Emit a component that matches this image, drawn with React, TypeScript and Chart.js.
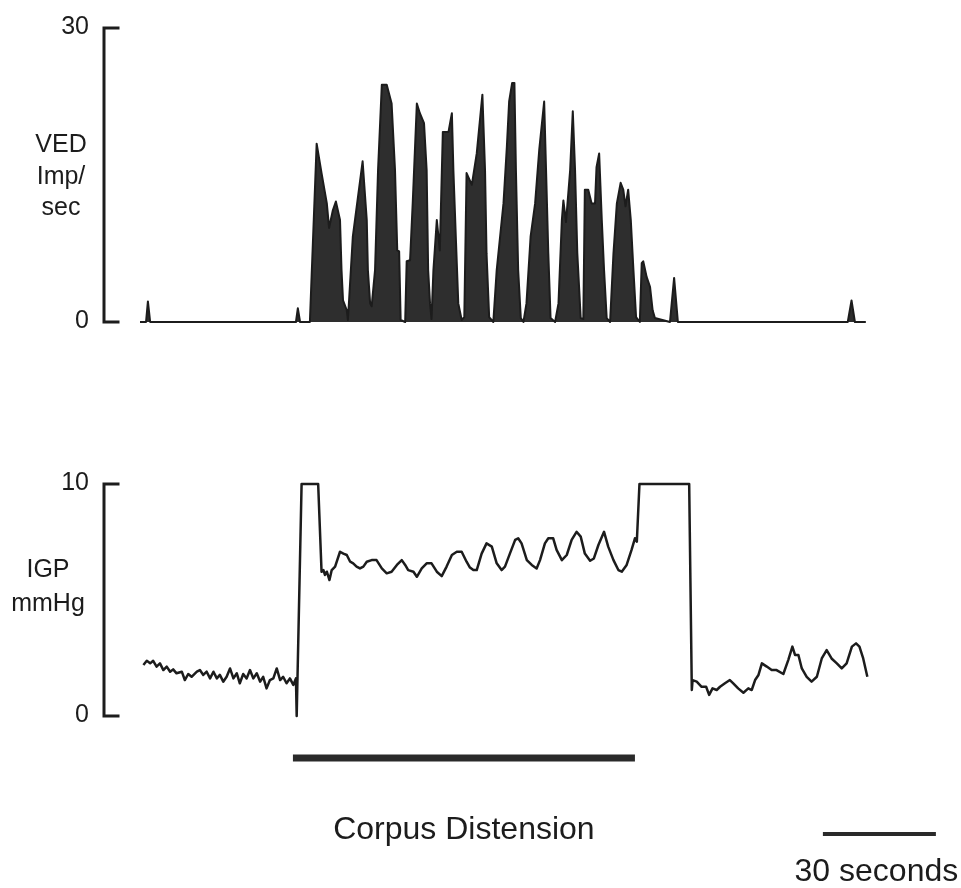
import React, { useEffect, useRef } from "react";
import { Chart, registerables } from "chart.js";

Chart.register(...registerables);

// ---------- DATA (time in seconds from start of recording) ----------
const vedTime = [
  0, 1.6, 2.1, 2.7, 41.4, 41.9, 42.5, 45.1, 46.9, 48.2, 49.6, 50.2, 51.2, 52.0, 53.1, 53.5, 53.9, 54.9, 55.2,
  56.5, 59.1, 60.2, 60.5, 61.1, 61.5, 62.4, 63.2, 64.2, 65.5, 66.8, 67.7, 68.3, 68.8, 69.2, 70.4, 70.8, 71.7,
  72.4, 73.5, 74.3, 75.4, 76.1, 76.5, 77.0, 77.4, 77.9, 78.8, 79.6, 80.4, 81.9, 82.8, 83.2, 83.9, 84.5, 85.4,
  86.1, 86.7, 88.1, 89.4, 90.9, 91.6, 92.0, 92.7, 93.8, 94.7, 96.5, 97.4, 98.0, 98.8, 99.4, 99.8, 100.4, 101.1,
  101.8, 102.6, 103.7, 104.9, 106.0, 107.3, 107.8, 108.4, 109.0, 110.2, 111.1, 112.0, 112.4, 113.1, 114.2,
  114.9, 115.5, 116.1, 117.0, 117.7, 118.1, 119.0, 119.9, 120.8, 121.2, 121.9, 122.6, 123.2, 123.9, 124.8,
  125.7, 126.6, 127.6, 128.3, 128.9, 129.6, 130.3, 131.0, 131.7, 132.7, 133.2, 133.6, 134.5, 135.4, 136.1,
  136.7, 140.7, 141.8, 142.8, 187.9, 188.9, 189.8, 192.7,
];
const vedImpPerSec = [
  0, 0, 2.1, 0, 0, 1.4, 0, 0, 18.2, 15.2, 12.1, 9.6, 11.4, 12.3, 10.4, 5.3, 2.2, 1.2, 0.2,
  8.7, 16.4, 10.4, 5.3, 1.9, 1.6, 5.3, 15.5, 24.2, 24.2, 22.3, 15.5, 7.3, 7.2, 0.2, 0, 6.2, 6.3,
  12.1, 22.3, 21.3, 20.3, 15.5, 5.3, 1.9, 0.3, 5.3, 10.4, 7.3, 19.4, 19.4, 21.3, 15.5, 8.1, 1.9, 0.2,
  0.5, 15.2, 14.0, 17.2, 23.2, 15.5, 7.0, 0.5, 0, 5.3, 12.1, 17.9, 22.5, 24.4, 24.4, 15.5, 5.3, 0.4,
  0, 1.9, 8.7, 12.1, 17.6, 22.5, 15.5, 7.0, 0.4, 0, 1.9, 10.4, 12.4, 10.2, 15.5,
  21.5, 15.5, 7.0, 0.4, 0.3, 13.5, 13.5, 12.1, 12.1, 15.8, 17.2, 10.4, 5.3, 0.4, 0,
  7.0, 12.1, 14.2, 13.5, 11.8, 13.5, 10.4, 5.3, 0.5, 0, 6.0, 6.2, 4.6, 3.6, 1.2,
  0.4, 0, 4.5, 0, 0, 2.2, 0, 0,
];

const igpTime = [
  0.9, 1.8, 2.7, 3.5, 4.4, 5.3, 6.2, 7.1, 8.0, 8.8, 9.7, 11.1, 11.9, 12.8, 13.7, 15.1, 15.9, 16.8, 17.7, 18.6,
  19.5, 20.4, 21.2, 22.1, 23.0, 23.9, 24.8, 25.7, 26.5, 27.4, 28.3, 29.2, 30.1, 31.0, 31.9, 32.7, 33.6, 34.5,
  35.4, 36.3, 37.2, 38.0, 38.9, 39.8, 40.7, 41.4, 41.6, 42.9, 47.3, 48.2, 48.7, 49.1, 49.6, 50.3, 50.9, 51.8,
  53.1, 54.0, 54.9, 55.8, 56.6, 57.5, 58.4, 59.3, 60.2, 61.5, 62.8, 64.2, 65.5, 66.8, 68.2, 69.5, 70.4, 71.2,
  72.6, 73.5, 74.8, 76.1, 77.4, 78.8, 80.1, 81.4, 82.8, 84.1, 85.4, 86.7, 87.6, 88.5, 89.4, 90.7, 92.0, 93.4,
  94.7, 96.0, 96.9, 98.2, 99.6, 100.4, 101.3, 102.7, 104.0, 105.3, 106.2, 107.5, 108.4, 109.7, 110.6, 112.0,
  113.3, 114.6, 115.9, 117.0, 118.1, 119.5, 120.5, 121.7, 123.2, 124.3, 125.7, 127.0, 127.9, 129.2, 130.5,
  131.4, 131.9, 132.6, 145.8, 146.5, 146.7, 147.8, 149.1, 150.3, 151.1, 152.0, 153.1, 154.0, 155.3, 156.6,
  157.5, 158.8, 160.2, 161.5, 162.4, 163.3, 164.2, 165.1, 166.4, 167.7, 169.0, 170.8, 172.1, 173.2, 173.9,
  174.8, 175.7, 177.0, 178.3, 179.7, 181.0, 182.3, 183.6, 185.0, 186.3, 187.6, 189.0, 190.1, 191.0, 192.0,
  193.1,
];
const igpMmHg = [
  2.2, 2.38, 2.27, 2.38, 2.13, 2.27, 1.98, 2.13, 1.91, 2.01, 1.84, 1.91, 1.55, 1.81, 1.69, 1.91, 1.98, 1.77, 1.91, 1.62,
  1.91, 1.62, 1.77, 1.48, 1.69, 2.05, 1.62, 1.84, 1.41, 1.81, 1.62, 1.98, 1.62, 1.84, 1.48, 1.69, 1.19, 1.55,
  1.62, 2.05, 1.55, 1.69, 1.41, 1.62, 1.34, 1.62, 0, 10, 10, 6.22, 6.29, 6.08, 6.22, 5.86, 6.29, 6.44,
  7.08, 7.0, 6.94, 6.65, 6.58, 6.44, 6.36, 6.44, 6.65, 6.72, 6.72, 6.36, 6.15, 6.22, 6.51, 6.72, 6.51, 6.29,
  6.22, 6.0, 6.36, 6.58, 6.58, 6.22, 6.03, 6.44, 6.94, 7.08, 7.08, 6.65, 6.4, 6.29, 6.29, 7.0, 7.44, 7.3,
  6.58, 6.29, 6.44, 7.0, 7.59, 7.66, 7.44, 6.72, 6.51, 6.36, 6.72, 7.44, 7.66, 7.66, 7.16, 6.72,
  6.94, 7.59, 7.94, 7.73, 7.0, 6.69, 6.79, 7.37, 7.94, 7.3, 6.72, 6.29, 6.22, 6.51, 7.16,
  7.66, 7.51, 10, 10, 1.12, 1.55, 1.48, 1.26, 1.26, 0.91, 1.19, 1.12, 1.26, 1.41, 1.55,
  1.41, 1.19, 1.0, 1.19, 1.12, 1.55, 1.77, 2.27, 2.13, 1.98, 1.98, 1.81, 2.41, 2.99, 2.63,
  2.63, 2.05, 1.69, 1.48, 1.69, 2.48, 2.84, 2.48, 2.27, 2.05, 2.27, 2.99, 3.13, 2.99, 2.48,
  1.69,
];

const vedTicks = [0, 30];
const igpTicks = [0, 10];
const vedLabel = ["VED", "Imp/", "sec"];
const igpLabel = ["IGP", "mmHg"];
const distensionStartSec = 40.6;
const distensionEndSec = 131.4;
const distensionLabel = "Corpus Distension";
const scaleBarStartSec = 181.3;
const scaleBarSeconds = 30;
const scaleBarLabel = "30 seconds";

// ---------- LAYOUT (pixels) ----------
const W = 961;
const H = 888;
const X0_PX = 140;
const PX_PER_SEC = 113 / 30;
const TOP_ZERO_PX = 322;
const TOP_MAX_PX = 28;
const BOT_ZERO_PX = 716;
const BOT_MAX_PX = 484;
const AXIS_X = 104;
const TICK_LEN = 14;
const DIST_BAR_Y = 758;
const SCALE_BAR_Y = 834;
const FONT = "'Liberation Sans', Arial, Helvetica, sans-serif";
const INK = "#1c1c1c";

function yRange(zeroPx: number, maxPx: number, maxVal: number) {
  const ppu = (zeroPx - maxPx) / maxVal;
  return { min: -(H - zeroPx) / ppu, max: maxVal + maxPx / ppu, ppu };
}
const topR = yRange(TOP_ZERO_PX, TOP_MAX_PX, vedTicks[1]);
const botR = yRange(BOT_ZERO_PX, BOT_MAX_PX, igpTicks[1]);
const botValAt = (px: number) => (BOT_ZERO_PX - px) / botR.ppu;

const xMin = -X0_PX / PX_PER_SEC;
const xMax = xMin + W / PX_PER_SEC;

const zip = (xs: number[], ys: number[]) =>
  xs.slice(0, Math.min(xs.length, ys.length)).map((x, i) => ({ x, y: ys[i] }));

const annotations = {
  id: "traceAnnotations",
  afterDraw(chart: any) {
    const ctx = chart.ctx as CanvasRenderingContext2D;
    const yT = chart.scales.yTop;
    const yB = chart.scales.yBot;
    const xs = chart.scales.x;
    ctx.save();
    ctx.strokeStyle = INK;
    ctx.fillStyle = INK;
    ctx.lineWidth = 3;
    ctx.lineCap = "square";
    const bracket = (scale: any, ticks: number[]) => {
      const yTopPx = scale.getPixelForValue(ticks[1]);
      const yBotPx = scale.getPixelForValue(ticks[0]);
      ctx.beginPath();
      ctx.moveTo(AXIS_X + TICK_LEN, yTopPx);
      ctx.lineTo(AXIS_X, yTopPx);
      ctx.lineTo(AXIS_X, yBotPx);
      ctx.lineTo(AXIS_X + TICK_LEN, yBotPx);
      ctx.stroke();
      ctx.font = `25px ${FONT}`;
      ctx.textAlign = "right";
      ctx.textBaseline = "middle";
      ticks.forEach((t) => ctx.fillText(String(t), 89, scale.getPixelForValue(t) - 1));
    };
    bracket(yT, vedTicks);
    bracket(yB, igpTicks);

    ctx.font = `25px ${FONT}`;
    ctx.textAlign = "center";
    ctx.textBaseline = "alphabetic";
    const vedBase = [152, 184, 215];
    vedLabel.forEach((s, i) => ctx.fillText(s, 61, vedBase[i]));
    const igpBase = [577, 611];
    igpLabel.forEach((s, i) => ctx.fillText(s, 48, igpBase[i]));

    ctx.font = `32px ${FONT}`;
    ctx.fillText(distensionLabel, (xs.getPixelForValue(distensionStartSec) + xs.getPixelForValue(distensionEndSec)) / 2, 839);
    ctx.fillText(scaleBarLabel, xs.getPixelForValue(scaleBarStartSec + scaleBarSeconds / 2) - 3, 881);
    ctx.restore();
  },
};

export default function App() {
  const ref = useRef<HTMLCanvasElement>(null);
  useEffect(() => {
    if (!ref.current) return;
    const chart = new Chart(ref.current, {
      type: "line",
      data: {
        datasets: [
          {
            label: "VED Imp/sec",
            data: zip(vedTime, vedImpPerSec),
            yAxisID: "yTop",
            borderColor: INK,
            backgroundColor: "#2e2e2e",
            borderWidth: 2,
            borderJoinStyle: "round",
            fill: "origin",
            pointRadius: 0,
            tension: 0,
          },
          {
            label: "IGP mmHg",
            data: zip(igpTime, igpMmHg),
            yAxisID: "yBot",
            borderColor: INK,
            borderWidth: 2.5,
            borderJoinStyle: "round",
            fill: false,
            pointRadius: 0,
            tension: 0,
          },
          {
            label: distensionLabel,
            data: [
              { x: distensionStartSec, y: botValAt(DIST_BAR_Y) },
              { x: distensionEndSec, y: botValAt(DIST_BAR_Y) },
            ],
            yAxisID: "yBot",
            borderColor: "#2a2a2a",
            borderWidth: 7,
            borderCapStyle: "butt",
            fill: false,
            pointRadius: 0,
          },
          {
            label: scaleBarLabel,
            data: [
              { x: scaleBarStartSec, y: botValAt(SCALE_BAR_Y) },
              { x: scaleBarStartSec + scaleBarSeconds, y: botValAt(SCALE_BAR_Y) },
            ],
            yAxisID: "yBot",
            borderColor: "#2a2a2a",
            borderWidth: 4,
            borderCapStyle: "butt",
            fill: false,
            pointRadius: 0,
          },
        ],
      },
      options: {
        responsive: false,
        maintainAspectRatio: false,
        devicePixelRatio: 1,
        animation: false,
        events: [],
        layout: { padding: 0 },
        plugins: { legend: { display: false }, tooltip: { enabled: false }, title: { display: false } },
        scales: {
          x: { type: "linear", min: xMin, max: xMax, display: false },
          yTop: { type: "linear", min: topR.min, max: topR.max, display: false },
          yBot: { type: "linear", min: botR.min, max: botR.max, display: false },
        },
      } as any,
      plugins: [annotations],
    });
    return () => chart.destroy();
  }, []);
  return (
    <div style={{ position: "absolute", left: 0, top: 0, width: W, height: H, background: "#fff" }}>
      <canvas ref={ref} width={W} height={H} style={{ display: "block", width: W, height: H }} />
    </div>
  );
}
